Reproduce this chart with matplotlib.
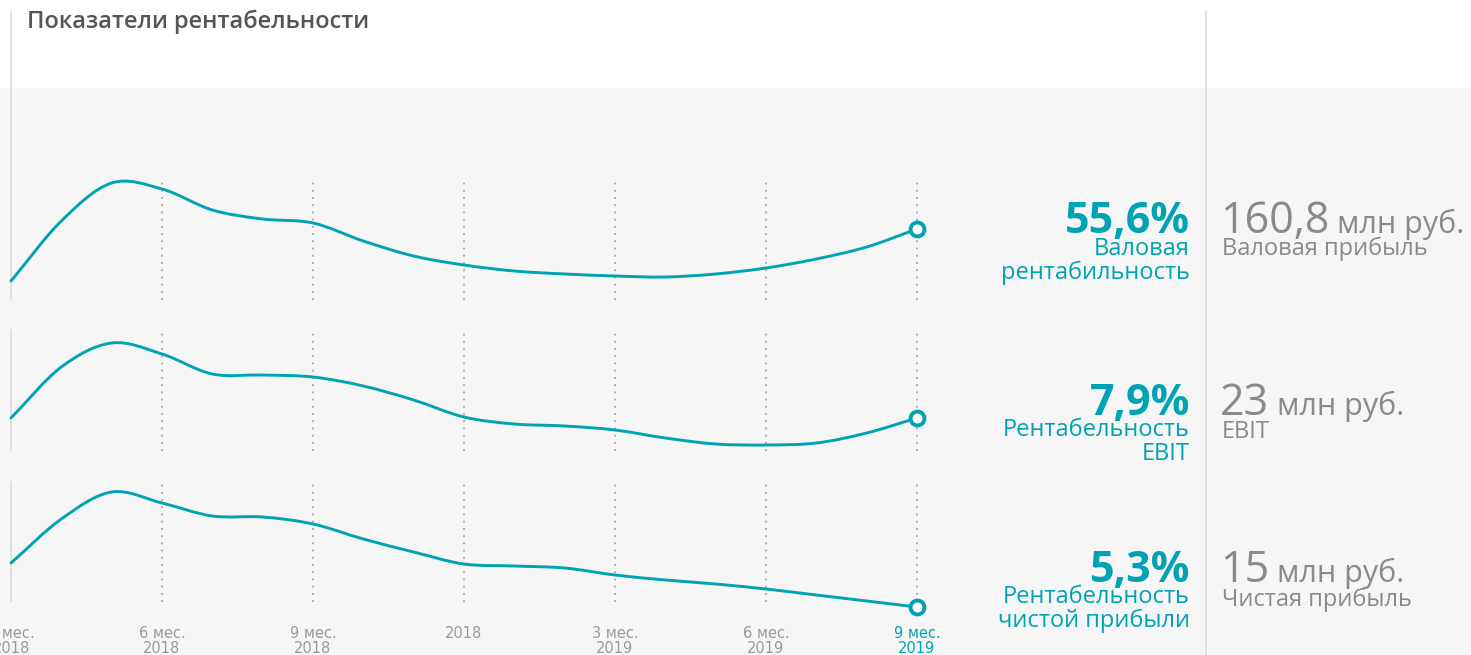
import matplotlib
matplotlib.use("Agg")
import matplotlib.pyplot as plt
from matplotlib.patches import Rectangle
from matplotlib.lines import Line2D
from matplotlib.path import Path
from matplotlib.patches import PathPatch
import numpy as np

plt.rcParams['font.family'] = ['Open Sans', 'DejaVu Sans']

# months from the start of 2018 (3 = "3 мес. 2018", 21 = "9 мес. 2019")
months = list(range(3, 22))

gross_margin = [50.4, 56.4, 60.2, 59.6, 57.5, 56.6, 56.2, 54.4, 52.9, 52.0,
                51.4, 51.1, 50.9, 50.8, 51.1, 51.7, 52.6, 53.8, 55.6]
ebit_margin = [7.9, 13.0, 15.4, 14.3, 12.3, 12.2, 12.0, 11.1, 9.7, 8.0,
               7.3, 7.1, 6.7, 5.9, 5.3, 5.2, 5.4, 6.4, 7.9]
net_margin = [9.7, 14.1, 16.8, 15.7, 14.4, 14.3, 13.6, 12.1, 10.8, 9.6,
              9.4, 9.2, 8.5, 8.0, 7.6, 7.1, 6.5, 5.9, 5.3]

tick_months = [3, 6, 9, 12, 15, 18, 21]
tick_labels = ["3 мес.\n2018", "6 мес.\n2018", "9 мес.\n2018", "2018",
               "3 мес.\n2019", "6 мес.\n2019", "9 мес.\n2019"]

pct_labels = ["55,6%", "7,9%", "5,3%"]
pct_names = ["Валовая\nрентабильность", "Рентабельность\nEBIT", "Рентабельность\nчистой прибыли"]
abs_values = ["160,8", "23", "15"]
abs_names = ["Валовая прибыль", "EBIT", "Чистая прибыль"]

TEAL = "#00a3b4"
GREY_TXT = "#8a8a8a"
W, H = 1471, 655


def fx(x):
    return x / W


def fy(y):
    return 1 - y / H


def smooth_path(xs, ys):
    # catmull-rom through the points, drawn as cubic bezier segments
    xs = np.asarray(xs, float)
    ys = np.asarray(ys, float)
    px = np.concatenate([[2 * xs[0] - xs[1]], xs, [2 * xs[-1] - xs[-2]]])
    py = np.concatenate([[2 * ys[0] - ys[1]], ys, [2 * ys[-1] - ys[-2]]])
    verts = [(xs[0], ys[0])]
    codes = [Path.MOVETO]
    for i in range(1, len(px) - 2):
        c1 = (px[i] + (px[i + 1] - px[i - 1]) / 6, py[i] + (py[i + 1] - py[i - 1]) / 6)
        c2 = (px[i + 1] - (px[i + 2] - px[i]) / 6, py[i + 1] - (py[i + 2] - py[i]) / 6)
        verts += [c1, c2, (px[i + 1], py[i + 1])]
        codes += [Path.CURVE4] * 3
    return Path(verts, codes)


fig = plt.figure(figsize=(W / 100, H / 100), dpi=100)
fig.patch.set_facecolor("white")

# grey band and dividers
fig.patches.append(Rectangle((0, 0), 1, fy(88), transform=fig.transFigure,
                             facecolor="#f6f6f6", edgecolor="none", zorder=-5))
fig.add_artist(Line2D([fx(1206), fx(1206)], [fy(12), 0], transform=fig.transFigure,
                      color="#dddddd", lw=1.2, zorder=-4))
fig.add_artist(Line2D([fx(11), fx(11)], [fy(12), fy(178)], transform=fig.transFigure,
                      color="#dddddd", lw=1.2, zorder=-4))

fig.text(fx(27), fy(22), "Показатели рентабельности", transform=fig.transFigure,
         fontsize=17, fontweight="semibold", color="#555555", va="center", ha="left")

# panel extents in pixels (top, bottom) and y-limits
panels = [(178, 300, (48.5, 60.7)), (329, 451, (4.6, 16.8)), (481, 602, (5.8, 17.9))]
series = [gross_margin, ebit_margin, net_margin]
x_left = 3 - 11 / 50.33
x_right = 3 + 949 / 50.33

axes = []
for (top, bot, ylim), vals in zip(panels, series):
    ax = fig.add_axes([0, fy(bot), fx(960), (bot - top) / H])
    ax.set_xlim(x_left, x_right)
    ax.set_ylim(*ylim)
    ax.patch.set_alpha(0)
    for s in ax.spines.values():
        s.set_visible(False)
    ax.set_yticks([])
    ax.set_xticks([])
    for m in tick_months[1:]:
        ax.axvline(m, color="#a8a8a8", lw=1.3, linestyle=(0, (1.0, 3.0)), zorder=1)
    ax.axvline(tick_months[0], color="#dddddd", lw=1.2, zorder=1)
    ax.add_patch(PathPatch(smooth_path(months, vals), facecolor="none", edgecolor=TEAL,
                           lw=2.1, capstyle="round", zorder=3, clip_on=False))
    ax.plot(months[-1], vals[-1], marker="o", markersize=10, markerfacecolor="white",
            markeredgecolor=TEAL, markeredgewidth=2.8, zorder=4, clip_on=False)
    axes.append(ax)

ax3 = axes[-1]
ax3.set_xticks(tick_months)
ax3.set_xticklabels(tick_labels, fontsize=10.5, color="#9a9a9a", linespacing=1.0,
                    family=["Liberation Sans Narrow", "DejaVu Sans"])
ax3.tick_params(axis="x", length=0, pad=17)
ax3.get_xticklabels()[-1].set_color(TEAL)

# right-hand texts
pct_base = [233, 415, 582]
name_top = [237, 418, 585]
abs_name_top = [237, 420, 588]

fig.canvas.draw()
renderer = fig.canvas.get_renderer()
for i in range(3):
    fig.text(fx(1190), fy(pct_base[i]), pct_labels[i], transform=fig.transFigure,
             fontsize=31, fontweight="bold", color=TEAL, ha="right", va="baseline")
    fig.text(fx(1190), fy(name_top[i]), pct_names[i], transform=fig.transFigure,
             fontsize=17, color=TEAL, ha="right", va="top", linespacing=1.0,
             multialignment="right")
    t = fig.text(fx(1220), fy(pct_base[i]), abs_values[i], transform=fig.transFigure,
                 fontsize=31, color=GREY_TXT, ha="left", va="baseline")
    bb = t.get_window_extent(renderer)
    fig.text(bb.x1 / W + fx(8), fy(pct_base[i]), "млн руб.", transform=fig.transFigure,
             fontsize=22, color=GREY_TXT, ha="left", va="baseline")
    fig.text(fx(1222), fy(abs_name_top[i]), abs_names[i], transform=fig.transFigure,
             fontsize=17, color=GREY_TXT, ha="left", va="top")

fig.savefig("out.png", dpi=100)
